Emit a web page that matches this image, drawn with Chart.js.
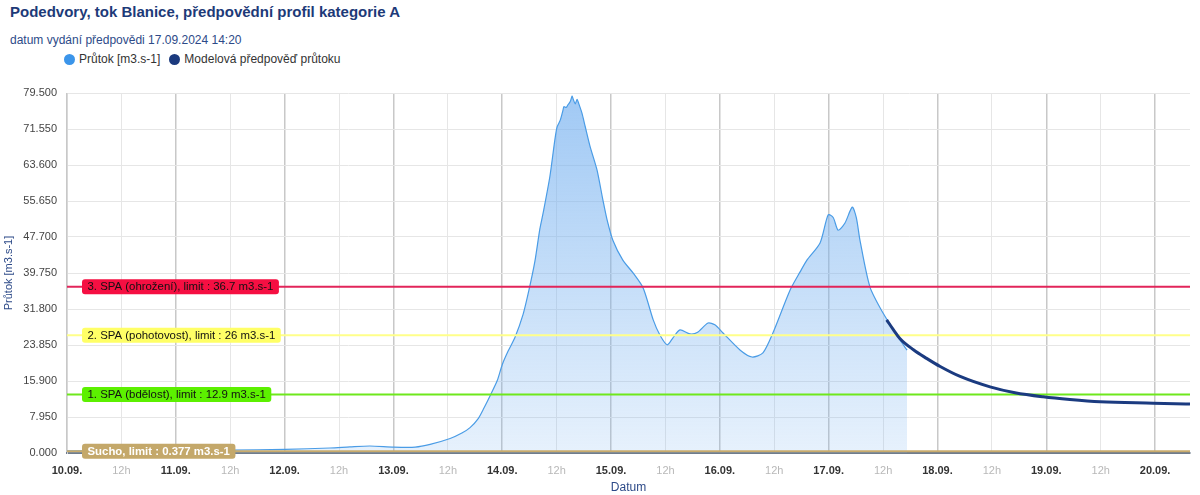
<!DOCTYPE html>
<html lang="cs">
<head>
<meta charset="utf-8">
<title>Podedvory, tok Blanice</title>
<script src="https://cdn.jsdelivr.net/npm/chart.js@4.4.1/dist/chart.umd.min.js"></script>
<style>
  html, body { margin: 0; padding: 0; background: #fff; }
  body { width: 1200px; height: 495px; position: relative; overflow: hidden; font-family: "Liberation Sans", Arial, sans-serif; }
  #title { position: absolute; left: 10px; top: 3px; font-size: 15px; font-weight: bold; color: #1d3a78; white-space: nowrap; }
  #subtitle { position: absolute; left: 10px; top: 33px; font-size: 12px; color: #2d4a88; white-space: nowrap; }
  #legend { position: absolute; left: 64px; top: 52px; font-size: 12px; color: #333; display: flex; white-space: nowrap; }
  #legend .item { display: flex; align-items: center; margin-right: 9px; }
  #legend i { width: 11px; height: 11px; border-radius: 50%; margin-right: 4px; display: inline-block; }
  #wrap { position: absolute; left: 0; top: 0; width: 1200px; height: 495px; }
</style>
</head>
<body>
<div id="title">Podedvory, tok Blanice, předpovědní profil kategorie A</div>
<div id="subtitle">datum vydání předpovědi 17.09.2024 14:20</div>
<div id="legend"></div>
<div id="wrap"><canvas id="chart"></canvas></div>

<script>
// hodiny od 10.09. 00:00
const flowHours = [0, 9.5, 24, 36, 48.1, 58, 62.4, 66.8, 72.1, 76.8, 80.1, 84.5, 87.1, 88.9, 90.7, 92, 93.3, 94.9, 96, 97.3,
  98.8, 100.6, 101.9, 103.2, 104.3, 105, 106.5, 107.6, 108.1, 108.8, 109.4, 109.6, 110.1, 110.5, 111, 111.4, 111.6, 112.1, 112.5, 112.9,
  113.6, 114.3, 115.4, 116.9, 118.2, 119.1, 120.4, 122.6, 124.9, 127.1, 129.3, 130.8, 132.4, 133.7, 135.2, 137.4, 139, 141.4, 142.9, 144.7,
  148.5, 151.1, 153.5, 155.7, 159.5, 161.7, 163.2, 166.1, 167.9, 169, 170.1, 171.6, 173.2, 174.1, 174.9, 177.1, 180, 183.7, 185.3];
const flowValues = [0.45, 0.5, 0.55, 0.65, 0.8, 1.1, 1.35, 1.55, 1.3, 1.3, 1.9, 3.2, 4.4, 5.6, 7.6, 10, 12.6, 16, 19.5, 22.5,
  25.5, 30.6, 36, 42.3, 49.5, 52.9, 61, 69.1, 72, 73.5, 75.7, 76.5, 76.3, 76.9, 77.6, 78.8, 78.3, 77.1, 78.1, 77.1,
  75, 72.1, 67.6, 62.5, 55.9, 51.6, 47, 42.6, 39.7, 36.4, 29.4, 26, 23.9, 25.5, 27.2, 26.3, 26.6, 28.7, 28.3, 26.5,
  22.7, 21.2, 22.1, 26.5, 36, 40, 42.6, 46.4, 52.6, 52, 49.2, 50.8, 54.3, 52, 47, 36.7, 30.9, 25, 22.7];

const forecastHours = [180.8, 182.3, 183.7, 186.7, 189.6, 192.6, 197, 203.6, 209.1, 215.3, 221.2, 227.9, 239.6, 247.7];
const forecastValues = [29.4, 27.2, 25.3, 22.8, 20.9, 19.1, 16.9, 14.6, 13.3, 12.4, 11.8, 11.3, 11, 10.8];

const limitNames = ['3. SPA (ohrožení)', '2. SPA (pohotovost)', '1. SPA (bdělost)', 'Sucho'];
const limitValues = [36.7, 26, 12.9, 0.377];
const limitLine = ['#e2255a', '#ffff8a', '#6ee81c', '#c9ab6c'];
const limitBox = ['#f50f42', '#ffff66', '#5cf000', '#c4a86a'];
const limitText = ['#111', '#111', '#111', '#fff'];

const dayLabels = ['10.09.', '11.09.', '12.09.', '13.09.', '14.09.', '15.09.', '16.09.', '17.09.', '18.09.', '19.09.', '20.09.'];
const yTickValues = [0, 7.95, 15.9, 23.85, 31.8, 39.75, 47.7, 55.65, 63.6, 71.55, 79.5];
const xMax = 247.7;

const pts = (xs, ys) => xs.map((h, i) => ({ x: h, y: ys[i] }));

const datasets = [
  {
    label: 'Průtok [m3.s-1]',
    data: pts(flowHours, flowValues),
    borderColor: '#4a9ce6',
    legendColor: '#3b95ea',
    borderWidth: 1.2,
    pointRadius: 0,
    tension: 0.25,
    fill: 'origin',
    order: 2,
    backgroundColor: (c) => {
      const area = c.chart.chartArea;
      if (!area) return 'rgba(120,178,240,0.4)';
      const g = c.chart.ctx.createLinearGradient(0, area.top, 0, area.bottom);
      g.addColorStop(0, 'rgba(120,178,240,0.7)');
      g.addColorStop(1, 'rgba(120,178,240,0.18)');
      return g;
    }
  },
  {
    label: 'Modelová předpověď průtoku',
    data: pts(forecastHours, forecastValues),
    borderColor: '#1b3b80',
    legendColor: '#1b3a7e',
    borderWidth: 3,
    pointRadius: 0,
    cubicInterpolationMode: 'monotone',
    fill: false,
    order: 0
  }
];

limitValues.forEach((v, i) => {
  datasets.push({
    data: [{ x: 0, y: v }, { x: xMax, y: v }],
    borderColor: limitLine[i],
    borderWidth: 2,
    pointRadius: 0,
    fill: false,
    order: 1
  });
});

// popisky limitů
const limitLabels = {
  id: 'limitLabels',
  afterDatasetsDraw(chart) {
    const { ctx, scales: { x, y } } = chart;
    ctx.save();
    limitValues.forEach((v, i) => {
      const py = y.getPixelForValue(v);
      const text = limitNames[i] + ', limit : ' + v + ' m3.s-1';
      ctx.font = (i === 3 ? 'bold ' : '') + '11.4px "Liberation Sans", Arial, sans-serif';
      const w = ctx.measureText(text).width + 11;
      const px = x.left + 15;
      ctx.fillStyle = limitBox[i];
      ctx.beginPath();
      ctx.roundRect(px, py - 7.5, w, 15, 3);
      ctx.fill();
      ctx.fillStyle = limitText[i];
      ctx.textBaseline = 'middle';
      ctx.fillText(text, px + 5.5, py + 0.5);
    });
    ctx.restore();
  }
};

const chart = new Chart(document.getElementById('chart'), {
  type: 'line',
  data: { datasets: datasets },
  plugins: [limitLabels],
  options: {
    responsive: true,
    maintainAspectRatio: false,
    animation: false,
    layout: { padding: { top: 93, right: 10, left: 0, bottom: 0 } },
    plugins: { legend: { display: false }, title: { display: false }, tooltip: { enabled: false } },
    scales: {
      x: {
        type: 'linear',
        min: 0,
        max: xMax,
        afterFit: s => { s.height = 42; },
        afterBuildTicks: s => { s.ticks = dayLabels.flatMap((d, i) => i < dayLabels.length - 1 ? [{ value: i * 24 }, { value: i * 24 + 12 }] : [{ value: i * 24 }]); },
        border: { color: '#6f7c8c', width: 2 },
        grid: {
          drawTicks: false,
          color: c => (c.tick && c.tick.value % 24 === 0) ? '#c8c8c8' : '#e6e6e6',
          lineWidth: c => (c.tick && c.tick.value % 24 === 0) ? 1.5 : 1
        },
        ticks: {
          padding: 11,
          maxRotation: 0,
          autoSkip: false,
          font: c => ({ family: '"Liberation Sans", Arial, sans-serif', size: 11, weight: (c.tick && c.tick.value % 24 === 0) ? 'bold' : 'normal' }),
          color: c => (c.tick && c.tick.value % 24 === 0) ? '#333' : '#b8b8b8',
          callback: v => v % 24 === 0 ? dayLabels[v / 24] : '12h'
        },
        title: { display: true, text: 'Datum', color: '#2d4a88', padding: { top: 0, bottom: 0 }, font: { family: '"Liberation Sans", Arial, sans-serif', size: 12 } }
      },
      y: {
        min: 0,
        max: 79.5,
        afterFit: s => { s.width = 67; },
        afterBuildTicks: s => { s.ticks = yTickValues.map(v => ({ value: v })); },
        border: { color: '#d8d8d8', width: 1 },
        grid: { drawTicks: false, color: '#e6e6e6' },
        ticks: {
          padding: 10,
          color: '#444',
          font: { family: '"Liberation Sans", Arial, sans-serif', size: 11 },
          callback: v => v.toFixed(3)
        },
        title: { display: true, text: 'Průtok [m3.s-1]', color: '#2d4a88', padding: { top: 2, bottom: 0 }, font: { family: '"Liberation Sans", Arial, sans-serif', size: 11 } }
      }
    }
  }
});

// legenda
const legend = document.getElementById('legend');
chart.data.datasets.filter(d => d.label).forEach(d => {
  const item = document.createElement('span');
  item.className = 'item';
  item.innerHTML = '<i style="background:' + d.legendColor + '"></i>' + d.label;
  legend.appendChild(item);
});
</script>
</body>
</html>
